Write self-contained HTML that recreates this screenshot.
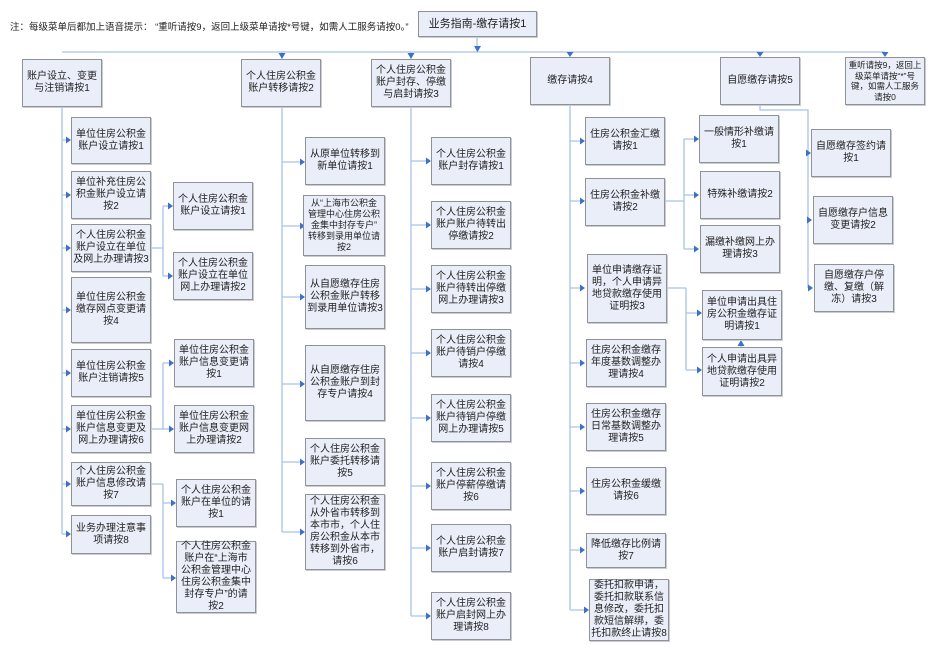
<!DOCTYPE html>
<html><head><meta charset="utf-8"><style>
*{margin:0;padding:0;box-sizing:border-box}
body{width:942px;height:649px;background:#fff;position:relative;overflow:hidden;font-family:"Liberation Sans","Noto Sans CJK SC",sans-serif;color:#222}
.b{position:absolute;background:#e9eef8;border:1px solid #8f9398;box-shadow:1px 1px 0 #c9ccd0;display:flex;align-items:center;justify-content:center;text-align:center;font-size:10px;line-height:12px;white-space:nowrap}
.s{font-size:9px;line-height:11px}
svg{position:absolute;left:0;top:0}
.note{position:absolute;left:10px;top:19px;font-size:9.5px;white-space:nowrap}
</style></head><body>
<svg width="942" height="649">
<g stroke="#a8c2e6" stroke-width="1.3" fill="none">
<path d="M477 37V52M62 52H885"/>
<path d="M282 52V57M411 52V57M570 52V55M760 52V55M885 52V55"/>
<path d="M62 107V534"/>
<path d="M62 140H69M62 195H69M62 248H69M62 310H69M62 373H69M62 429H69M62 484H69M62 534H69"/>
<path d="M151 248H163M163 206V276M163 206H171M163 276H171"/>
<path d="M151 429H163M163 363V429M163 363H172M163 429H172"/>
<path d="M151 484H163M163 484V578M163 503H174M163 578H174"/>
<path d="M282 107V532"/>
<path d="M282 162H303M282 226H303M282 297H303M282 384H303M282 462H303M282 532H303"/>
<path d="M411 107V616"/>
<path d="M411 161H429M411 225H429M411 289H429M411 353H429M411 418H429M411 486H429M411 548H429M411 616H429"/>
<path d="M570 105V610"/>
<path d="M570 141H583M570 201H583M570 288H583M570 363H583M570 427H583M570 491H583M570 550H583M570 610H587"/>
<path d="M665 201H684M684 139V249M684 139H697M684 195H697M684 249H697"/>
<path d="M667 288H686M686 288V370M686 313H700M686 370H700"/>
<path d="M760 105V110H808V288M808 153H809M808 220H810M808 288H812"/>
<path d="M741 347V340"/>
</g>
<g fill="#3d70c8">
<path d="M474 46H481L477.5 52Z"/>
<path d="M278.5 53H285.5L282 59Z"/><path d="M407.5 53H414.5L411 59Z"/><path d="M566.5 52H573.5L570 57Z"/><path d="M756.5 52H763.5L760 57Z"/><path d="M881.5 52H888.5L885 57Z"/>
<path d="M66 136.5V143.5L71 140Z"/><path d="M66 191.5V198.5L71 195Z"/><path d="M66 244.5V251.5L71 248Z"/><path d="M66 306.5V313.5L71 310Z"/><path d="M66 369.5V376.5L71 373Z"/><path d="M66 425.5V432.5L71 429Z"/><path d="M66 480.5V487.5L71 484Z"/><path d="M66 530.5V537.5L71 534Z"/>
<path d="M168 202.5V209.5L173 206Z"/><path d="M168 272.5V279.5L173 276Z"/>
<path d="M169 359.5V366.5L174 363Z"/><path d="M169 425.5V432.5L174 429Z"/>
<path d="M171 499.5V506.5L176 503Z"/><path d="M171 574.5V581.5L176 578Z"/>
<path d="M300 158.5V165.5L305 162Z"/><path d="M300 222.5V229.5L305 226Z"/><path d="M300 293.5V300.5L305 297Z"/><path d="M300 380.5V387.5L305 384Z"/><path d="M300 458.5V465.5L305 462Z"/><path d="M300 528.5V535.5L305 532Z"/>
<path d="M426 157.5V164.5L431 161Z"/><path d="M426 221.5V228.5L431 225Z"/><path d="M426 285.5V292.5L431 289Z"/><path d="M426 349.5V356.5L431 353Z"/><path d="M426 414.5V421.5L431 418Z"/><path d="M426 482.5V489.5L431 486Z"/><path d="M426 544.5V551.5L431 548Z"/><path d="M426 612.5V619.5L431 616Z"/>
<path d="M580 137.5V144.5L585 141Z"/><path d="M580 197.5V204.5L585 201Z"/><path d="M580 284.5V291.5L585 288Z"/><path d="M580 359.5V366.5L585 363Z"/><path d="M580 423.5V430.5L585 427Z"/><path d="M580 487.5V494.5L585 491Z"/><path d="M580 546.5V553.5L585 550Z"/><path d="M584 606.5V613.5L589 610Z"/>
<path d="M694 135.5V142.5L699 139Z"/><path d="M694 191.5V198.5L699 195Z"/><path d="M694 245.5V252.5L699 249Z"/>
<path d="M697 309.5V316.5L702 313Z"/><path d="M697 366.5V373.5L702 370Z"/>
<path d="M806 149.5V156.5L811 153Z"/><path d="M807 216.5V223.5L812 220Z"/><path d="M808 284.5V291.5L813 288Z"/>
<path d="M737.5 346H744.5L741 340Z"/>
</g>
</svg>
<div class="note">注：每级菜单后都加上语音提示：&nbsp;“重听请按9，返回上级菜单请按*号键，如需人工服务请按0。”</div>
<div class="b" style="left:418px;top:11px;width:119px;height:26px;font-size:11px">业务指南-缴存请按1</div>

<div class="b" style="left:22px;top:59px;width:80px;height:48px">账户设立、变更<br>与注销请按1</div>
<div class="b" style="left:241px;top:59px;width:80px;height:48px">个人住房公积金<br>账户转移请按2</div>
<div class="b" style="left:371px;top:59px;width:80px;height:48px">个人住房公积金<br>账户封存、停缴<br>与启封请按3</div>
<div class="b" style="left:530px;top:57px;width:80px;height:48px">缴存请按4</div>
<div class="b" style="left:720px;top:57px;width:80px;height:48px">自愿缴存请按5</div>
<div class="b s" style="left:845px;top:57px;width:80px;height:48px;font-size:8.5px;line-height:10.5px">重听请按9，返回上<br>级菜单请按“*”号<br>键，如需人工服务<br>请按0</div>

<div class="b" style="left:71px;top:117px;width:80px;height:47px">单位住房公积金<br>账户设立请按1</div>
<div class="b" style="left:71px;top:171px;width:80px;height:48px">单位补充住房公<br>积金账户设立请<br>按2</div>
<div class="b" style="left:71px;top:224px;width:80px;height:48px">个人住房公积金<br>账户设立在单位<br>及网上办理请按3</div>
<div class="b" style="left:71px;top:277px;width:80px;height:66px">单位住房公积金<br>缴存网点变更请<br>按4</div>
<div class="b" style="left:71px;top:349px;width:80px;height:48px">单位住房公积金<br>账户注销请按5</div>
<div class="b" style="left:71px;top:405px;width:80px;height:48px">单位住房公积金<br>账户信息变更及<br>网上办理请按6</div>
<div class="b" style="left:71px;top:462px;width:80px;height:44px">个人住房公积金<br>账户信息修改请<br>按7</div>
<div class="b" style="left:71px;top:515px;width:80px;height:39px">业务办理注意事<br>项请按8</div>

<div class="b" style="left:173px;top:182px;width:80px;height:48px">个人住房公积金<br>账户设立请按1</div>
<div class="b" style="left:173px;top:252px;width:80px;height:48px">个人住房公积金<br>账户设立在单位<br>网上办理请按2</div>
<div class="b" style="left:174px;top:339px;width:80px;height:48px">单位住房公积金<br>账户信息变更请<br>按1</div>
<div class="b" style="left:174px;top:405px;width:80px;height:48px">单位住房公积金<br>账户信息变更网<br>上办理请按2</div>
<div class="b" style="left:176px;top:479px;width:80px;height:48px">个人住房公积金<br>账户在单位的请<br>按1</div>
<div class="b" style="left:176px;top:541px;width:80px;height:72px">个人住房公积金<br>账户在“上海市<br>公积金管理中心<br>住房公积金集中<br>封存专户”的请<br>按2</div>

<div class="b" style="left:305px;top:137px;width:80px;height:48px">从原单位转移到<br>新单位请按1</div>
<div class="b s" style="left:303px;top:195px;width:82px;height:61px">从“上海市公积金<br>管理中心住房公积<br>金集中封存专户”<br>转移到录用单位请<br>按2</div>
<div class="b" style="left:305px;top:265px;width:80px;height:64px">从自愿缴存住房<br>公积金账户转移<br>到录用单位请按3</div>
<div class="b" style="left:305px;top:345px;width:80px;height:76px">从自愿缴存住房<br>公积金账户到封<br>存专户请按4</div>
<div class="b" style="left:305px;top:438px;width:80px;height:48px">个人住房公积金<br>账户委托转移请<br>按5</div>
<div class="b" style="left:305px;top:494px;width:80px;height:76px">个人住房公积金<br>从外省市转移到<br>本市市，个人住<br>房公积金从本市<br>转移到外省市，<br>请按6</div>

<div class="b" style="left:431px;top:137px;width:80px;height:48px">个人住房公积金<br>账户封存请按1</div>
<div class="b" style="left:431px;top:201px;width:80px;height:48px">个人住房公积金<br>账户账户待转出<br>停缴请按2</div>
<div class="b" style="left:431px;top:265px;width:80px;height:48px">个人住房公积金<br>账户待转出停缴<br>网上办理请按3</div>
<div class="b" style="left:431px;top:329px;width:80px;height:48px">个人住房公积金<br>账户待销户停缴<br>请按4</div>
<div class="b" style="left:431px;top:394px;width:80px;height:48px">个人住房公积金<br>账户待销户停缴<br>网上办理请按5</div>
<div class="b" style="left:431px;top:462px;width:80px;height:48px">个人住房公积金<br>账户停薪停缴请<br>按6</div>
<div class="b" style="left:431px;top:524px;width:80px;height:48px">个人住房公积金<br>账户启封请按7</div>
<div class="b" style="left:431px;top:592px;width:80px;height:48px">个人住房公积金<br>账户启封网上办<br>理请按8</div>

<div class="b" style="left:585px;top:117px;width:80px;height:48px">住房公积金汇缴<br>请按1</div>
<div class="b" style="left:585px;top:178px;width:80px;height:48px">住房公积金补缴<br>请按2</div>
<div class="b" style="left:587px;top:254px;width:80px;height:69px">单位申请缴存证<br>明，个人申请异<br>地贷款缴存使用<br>证明按3</div>
<div class="b" style="left:586px;top:339px;width:80px;height:48px">住房公积金缴存<br>年度基数调整办<br>理请按4</div>
<div class="b" style="left:586px;top:403px;width:80px;height:48px">住房公积金缴存<br>日常基数调整办<br>理请按5</div>
<div class="b" style="left:586px;top:467px;width:80px;height:48px">住房公积金缓缴<br>请按6</div>
<div class="b" style="left:586px;top:533px;width:80px;height:35px">降低缴存比例请<br>按7</div>
<div class="b" style="left:589px;top:579px;width:80px;height:62px">委托扣款申请，<br>委托扣款联系信<br>息修改，委托扣<br>款短信解绑，委<br>托扣款终止请按8</div>

<div class="b" style="left:699px;top:115px;width:80px;height:48px">一般情形补缴请<br>按1</div>
<div class="b" style="left:700px;top:171px;width:80px;height:48px">特殊补缴请按2</div>
<div class="b" style="left:700px;top:225px;width:80px;height:48px">漏缴补缴网上办<br>理请按3</div>
<div class="b" style="left:702px;top:290px;width:80px;height:50px">单位申请出具住<br>房公积金缴存证<br>明请按1</div>
<div class="b" style="left:702px;top:347px;width:80px;height:49px">个人申请出具异<br>地贷款缴存使用<br>证明请按2</div>

<div class="b" style="left:811px;top:129px;width:80px;height:48px">自愿缴存签约请<br>按1</div>
<div class="b" style="left:813px;top:196px;width:80px;height:48px">自愿缴存户信息<br>变更请按2</div>
<div class="b" style="left:814px;top:264px;width:80px;height:48px">自愿缴存户停<br>缴、复缴（解<br>冻）请按3</div>
</body></html>
